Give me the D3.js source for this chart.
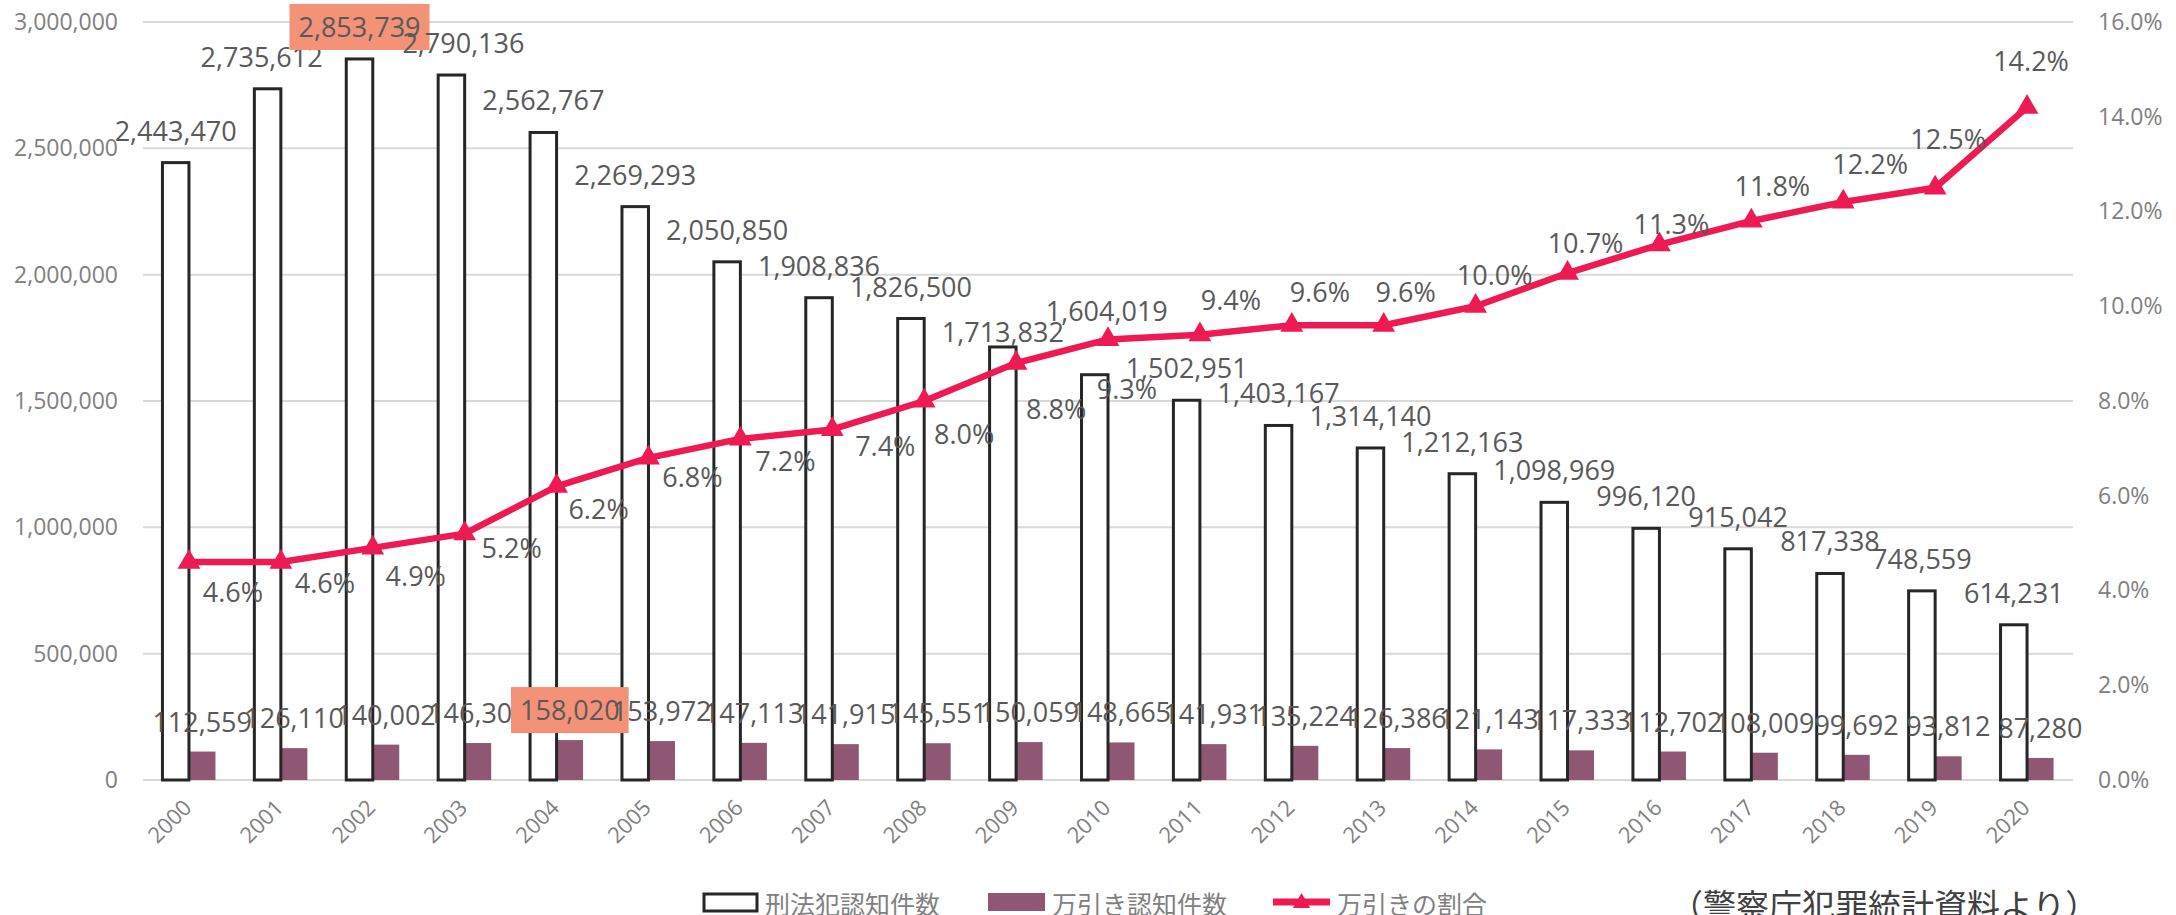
<!DOCTYPE html>
<html>
<head>
<meta charset="utf-8">
<script src="https://cdn.jsdelivr.net/npm/d3@7"></script>
<style>
  body { margin: 0; background: #fff; }
  text { font-family: "Open Sans", "Noto Sans", sans-serif; }
  .jp { font-family: "Noto Sans CJK JP", sans-serif; }
</style>
</head>
<body>
<div id="chart"></div>
<script>
// data
var years = ["2000", "2001", "2002", "2003", "2004", "2005", "2006", "2007", "2008", "2009", "2010",
  "2011", "2012", "2013", "2014", "2015", "2016", "2017", "2018", "2019", "2020"];
var totalCrimes = [2443470, 2735612, 2853739, 2790136, 2562767, 2269293, 2050850, 1908836, 1826500, 1713832, 1604019,
  1502951, 1403167, 1314140, 1212163, 1098969, 996120, 915042, 817338, 748559, 614231];
var shopliftCases = [112559, 126110, 140002, 146308, 158020, 153972, 147113, 141915, 145551, 150059, 148665,
  141931, 135224, 126386, 121143, 117333, 112702, 108009, 99692, 93812, 87280];
var shopliftShare = [4.6, 4.6, 4.9, 5.2, 6.2, 6.8, 7.2, 7.4, 8.0, 8.8, 9.3,
  9.4, 9.6, 9.6, 10.0, 10.7, 11.3, 11.8, 12.2, 12.5, 14.2];
var leftTicks = [0, 500000, 1000000, 1500000, 2000000, 2500000, 3000000];
var rightTicks = [0, 2, 4, 6, 8, 10, 12, 14, 16];
var seriesNames = ["刑法犯認知件数", "万引き認知件数", "万引きの割合"];
var highlightTotal = ["2002"];
var highlightShop = ["2004"];
var sourceNote = "（警察庁犯罪統計資料より）";

// hand placed labels in the original: offset from the marker / nudges from default spot
var pctLabelOffset = [[44, 40], [44, 31], [43, 38], [47, 24], [42, 33], [44, 29], [45, 32], [53, 27], [40, 43], [40, 56], [19, 60],
  [31, -25], [28, -23], [22, -23], [19, -21], [18, -20], [12, -11], [21, -25], [27, -28], [13, -39], [4, -36]];
var totalLabelNudge = { "2001": [-6, 0], "2003": [12, 0], "2009": [0, 17], "2010": [12, -32] };

var width = 2176, height = 915;
var plot = { left: 143, right: 2073, top: 22, bottom: 780 };

var purple = "#8f5773", pink = "#ee1a54", boxColor = "#f49278";
var labelColor = "#595959", axisColor = "#808080", gridColor = "#d9d9d9";

var svg = d3.select("#chart").append("svg")
  .attr("width", width)
  .attr("height", height);

var x = d3.scaleBand().domain(years).range([plot.left, plot.right]).padding(0);
var barW = 26.5;
var xSub = d3.scaleBand().domain(["total", "shop"])
  .range([x.bandwidth() / 2 - barW, x.bandwidth() / 2 + barW]).padding(0);
var y = d3.scaleLinear().domain([0, 3000000]).range([plot.bottom, plot.top]);
var y2 = d3.scaleLinear().domain([0, 16]).range([plot.bottom, plot.top]);
var cx = function (i) { return x(years[i]) + x.bandwidth() / 2; };

// gridlines
svg.append("g").selectAll("line")
  .data(leftTicks).enter().append("line")
  .attr("x1", plot.left).attr("x2", plot.right)
  .attr("y1", d => y(d)).attr("y2", d => y(d))
  .attr("stroke", gridColor).attr("stroke-width", 2);

// left axis
var fmt = d3.format(",");
svg.append("g").call(d3.axisLeft(y).tickValues(leftTicks).tickFormat(fmt).tickSize(0).tickPadding(0))
  .attr("transform", "translate(118,0)")
  .call(g => g.select(".domain").remove())
  .selectAll("text")
  .attr("font-size", 23).attr("fill", axisColor)
  .attr("font-family", "Open Sans");

// right axis
svg.append("g").call(d3.axisRight(y2).tickValues(rightTicks).tickFormat(d => d.toFixed(1) + "%").tickSize(0).tickPadding(0))
  .attr("transform", "translate(2098,0)")
  .call(g => g.select(".domain").remove())
  .selectAll("text")
  .attr("font-size", 23).attr("fill", axisColor)
  .attr("font-family", "Open Sans");

// x axis labels
svg.append("g").selectAll("text")
  .data(years).enter().append("text")
  .attr("transform", (d, i) => "translate(" + (cx(i) + 4) + ",809)rotate(-45)")
  .attr("text-anchor", "end")
  .attr("font-size", 22)
  .attr("fill", axisColor)
  .text(d => d);

// bars
svg.append("g").selectAll("rect")
  .data(shopliftCases).enter().append("rect")
  .attr("x", (d, i) => x(years[i]) + xSub("shop"))
  .attr("y", d => y(d))
  .attr("width", xSub.bandwidth())
  .attr("height", d => y(0) - y(d))
  .attr("fill", purple);

svg.append("g").selectAll("rect")
  .data(totalCrimes).enter().append("rect")
  .attr("x", (d, i) => x(years[i]) + xSub("total"))
  .attr("y", d => y(d))
  .attr("width", xSub.bandwidth())
  .attr("height", d => y(0) - y(d))
  .attr("fill", "#fff")
  .attr("stroke", "#262626")
  .attr("stroke-width", 3);

// line + markers
var line = d3.line()
  .x((d, i) => cx(i))
  .y(d => y2(d));

svg.append("path")
  .datum(shopliftShare)
  .attr("d", line)
  .attr("fill", "none")
  .attr("stroke", pink)
  .attr("stroke-width", 6.5)
  .attr("stroke-linejoin", "round");

var tri = d3.symbol().type(d3.symbolTriangle).size(225);
svg.append("g").selectAll("path")
  .data(shopliftShare).enter().append("path")
  .attr("d", tri)
  .attr("transform", (d, i) => "translate(" + cx(i) + "," + y2(d) + ")")
  .attr("fill", pink);

// value labels, drawn in series order so boxes overlap like the original
function drawLabel(g, tx, ty, txt, boxed) {
  var grp = g.append("g");
  var box = boxed ? grp.append("rect").attr("fill", boxColor) : null;
  var t = grp.append("text")
    .attr("x", tx).attr("y", ty)
    .attr("text-anchor", "middle")
    .attr("font-size", 27)
    .attr("fill", labelColor)
    .text(txt);
  if (box) {
    var bb = t.node().getBBox();
    box.attr("x", bb.x - 9).attr("y", ty - 33)
      .attr("width", bb.width + 18).attr("height", 46);
  }
}

var labels = svg.append("g");
totalCrimes.forEach(function (d, i) {
  var n = totalLabelNudge[years[i]] || [0, 0];
  drawLabel(labels, x(years[i]) + xSub("total") + xSub.bandwidth() / 2 + n[0], y(d) - 22 + n[1], fmt(d),
    highlightTotal.indexOf(years[i]) >= 0);
});
shopliftCases.forEach(function (d, i) {
  drawLabel(labels, x(years[i]) + xSub("shop") + xSub.bandwidth() / 2, y(d) - 20, fmt(d),
    highlightShop.indexOf(years[i]) >= 0);
});
shopliftShare.forEach(function (d, i) {
  drawLabel(labels, cx(i) + pctLabelOffset[i][0], y2(d) + pctLabelOffset[i][1], d.toFixed(1) + "%", false);
});

// legend
var legend = svg.append("g");
legend.append("rect").attr("x", 704).attr("y", 894).attr("width", 53).attr("height", 17)
  .attr("fill", "#fff").attr("stroke", "#262626").attr("stroke-width", 3);
legend.append("rect").attr("x", 988).attr("y", 893).attr("width", 57).attr("height", 18)
  .attr("fill", purple);
legend.append("line").attr("x1", 1273).attr("x2", 1330).attr("y1", 902).attr("y2", 902)
  .attr("stroke", pink).attr("stroke-width", 7);
legend.append("path").attr("d", d3.symbol().type(d3.symbolTriangle).size(130))
  .attr("transform", "translate(1301.5,903)").attr("fill", pink);

var legendX = [765, 1052, 1337];
legend.selectAll("text.lg")
  .data(seriesNames).enter().append("text")
  .attr("class", "lg jp")
  .attr("x", (d, i) => legendX[i])
  .attr("y", 903)
  .attr("dominant-baseline", "central")
  .attr("font-size", 25)
  .attr("fill", axisColor)
  .text(d => d);

svg.append("text")
  .attr("class", "jp")
  .attr("x", 1670)
  .attr("y", 918)
  .attr("font-size", 33)
  .attr("fill", "#404040")
  .text(sourceNote);
</script>
</body>
</html>
